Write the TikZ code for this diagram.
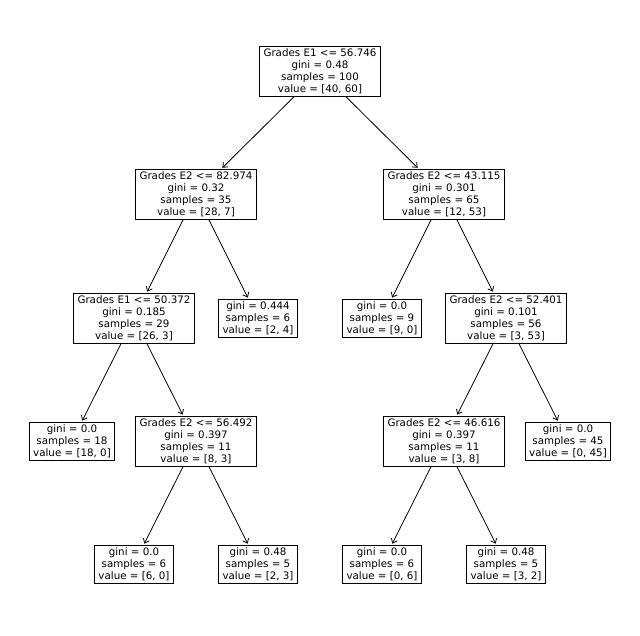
\documentclass[tikz,border=0pt]{standalone}
\usepackage{fontspec}
\setmainfont{DejaVu Sans}
\usetikzlibrary{arrows.meta}
\tikzset{
  split/.style={draw,line width=0.8pt,align=center,font=\fontsize{10.3}{12}\selectfont,inner xsep=4pt,inner ysep=2.5pt},
  edge/.style={-{Straight Barb[length=4pt,width=6.5pt]},line width=0.8pt,shorten >=1pt}
}
\begin{document}
\begin{tikzpicture}[x=1pt,y=-1pt]
\useasboundingbox (0,0) rectangle (640,636);
\node[split] (root) at (320,71) {Grades E1 <= 56.746\\gini = 0.48\\samples = 100\\value = [40, 60]};
\node[split] (l) at (196,194) {Grades E2 <= 82.974\\gini = 0.32\\samples = 35\\value = [28, 7]};
\node[split] (r) at (444,194) {Grades E2 <= 43.115\\gini = 0.301\\samples = 65\\value = [12, 53]};
\node[split] (ll) at (134,318) {Grades E1 <= 50.372\\gini = 0.185\\samples = 29\\value = [26, 3]};
\node[split] (lr) at (258,318) {gini = 0.444\\samples = 6\\value = [2, 4]};
\node[split] (rl) at (382,318) {gini = 0.0\\samples = 9\\value = [9, 0]};
\node[split] (rr) at (506,318) {Grades E2 <= 52.401\\gini = 0.101\\samples = 56\\value = [3, 53]};
\node[split] (lll) at (72,441) {gini = 0.0\\samples = 18\\value = [18, 0]};
\node[split] (llr) at (196,441) {Grades E2 <= 56.492\\gini = 0.397\\samples = 11\\value = [8, 3]};
\node[split] (rrl) at (444,441) {Grades E2 <= 46.616\\gini = 0.397\\samples = 11\\value = [3, 8]};
\node[split] (rrr) at (568,441) {gini = 0.0\\samples = 45\\value = [0, 45]};
\node[split] (llrl) at (134,564) {gini = 0.0\\samples = 6\\value = [6, 0]};
\node[split] (llrr) at (258,564) {gini = 0.48\\samples = 5\\value = [2, 3]};
\node[split] (rrll) at (382,564) {gini = 0.0\\samples = 6\\value = [0, 6]};
\node[split] (rrlr) at (506,564) {gini = 0.48\\samples = 5\\value = [3, 2]};
% edges
\draw[edge] (root) -- (l);
\draw[edge] (root) -- (r);
\draw[edge] (l) -- (ll);
\draw[edge] (l) -- (lr);
\draw[edge] (r) -- (rl);
\draw[edge] (r) -- (rr);
\draw[edge] (ll) -- (lll);
\draw[edge] (ll) -- (llr);
\draw[edge] (rr) -- (rrl);
\draw[edge] (rr) -- (rrr);
\draw[edge] (llr) -- (llrl);
\draw[edge] (llr) -- (llrr);
\draw[edge] (rrl) -- (rrll);
\draw[edge] (rrl) -- (rrlr);
\end{tikzpicture}
\end{document}
